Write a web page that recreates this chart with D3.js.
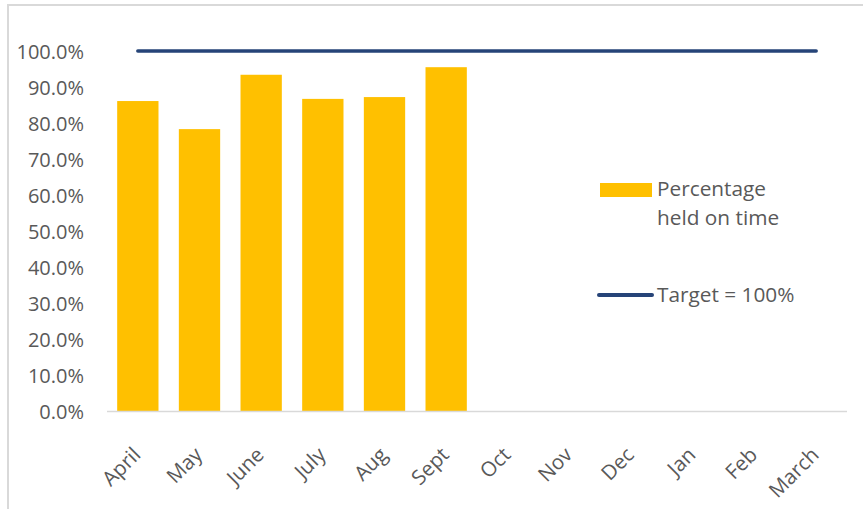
<!DOCTYPE html>
<html><head><meta charset="utf-8">
<script src="https://cdn.jsdelivr.net/npm/d3@7"></script>
<style>body{margin:0;background:#fff;} svg{display:block;}</style>
</head><body>
<svg id="c" width="863" height="509"></svg>
<script>
const months = ["April","May","June","July","Aug","Sept","Oct","Nov","Dec","Jan","Feb","March"];
const pctOnTime = [86.1, 78.3, 93.4, 86.7, 87.2, 95.5, null, null, null, null, null, null];
const target = [100,100,100,100,100,100,100,100,100,100,100,100];
const yTicks = [0,10,20,30,40,50,60,70,80,90,100];
const legendLabels = ["Percentage held on time", "Target = 100%"];

const svg = d3.select("#c");
const pL = 107, pR = 847, pT = 51, pB = 411;
const x = d3.scaleBand().domain(months).range([pL, pR]).paddingInner(0.33).paddingOuter(0.165);
const y = d3.scaleLinear().domain([0, 100]).range([pB, pT]);
const font = "'Open Sans', sans-serif";
const grey = "#595959";

// chart border
svg.append("path").attr("d", "M8,509 V5 H863").attr("fill", "none").attr("stroke", "#d9d9d9").attr("stroke-width", 2);

// y axis labels
const yAxis = d3.axisLeft(y).tickValues(yTicks).tickSize(0).tickPadding(0).tickFormat(d => d.toFixed(1) + "%");
const ga = svg.append("g").attr("transform", `translate(84,0)`).call(yAxis);
ga.select(".domain").remove();
ga.selectAll("text").attr("font-family", font).attr("font-size", 20).attr("fill", grey).attr("dy", "0.36em");

// bars
svg.append("g").selectAll("rect").data(months.map((m, i) => ({m, v: pctOnTime[i]})).filter(d => d.v != null))
  .join("rect")
  .attr("x", d => x(d.m)).attr("width", x.bandwidth())
  .attr("y", d => y(d.v)).attr("height", d => y(0) - y(d.v))
  .attr("fill", "#FFC000");

// x axis line
svg.append("line").attr("x1", pL).attr("x2", pR).attr("y1", y(0) + 0.5).attr("y2", y(0) + 0.5)
  .attr("stroke", "#d9d9d9").attr("stroke-width", 1.5);

// target line
const line = d3.line().x((d, i) => x(months[i]) + x.bandwidth() / 2).y(d => y(d));
svg.append("path").datum(target).attr("d", line).attr("fill", "none")
  .attr("stroke", "#264478").attr("stroke-width", 3.5).attr("stroke-linecap", "round");

// x labels
svg.append("g").selectAll("text").data(months).join("text")
  .attr("transform", d => `translate(${x(d) + x.bandwidth() / 2 - 1},${451}) rotate(-45)`)
  .attr("text-anchor", "end").attr("dy", "0.35em")
  .attr("font-family", font).attr("font-size", 20.5).attr("fill", grey)
  .text(d => d);

// legend
const lg = svg.append("g");
lg.append("rect").attr("x", 600).attr("y", 183).attr("width", 52).attr("height", 14).attr("fill", "#FFC000");
const t1 = lg.append("text").attr("x", 657).attr("y", 196).attr("font-family", font).attr("font-size", 20.8).attr("fill", grey);
t1.append("tspan").attr("x", 657).text("Percentage");
t1.append("tspan").attr("x", 657).attr("dy", 29).text("held on time");
lg.append("line").attr("x1", 599).attr("x2", 652).attr("y1", 295).attr("y2", 295)
  .attr("stroke", "#264478").attr("stroke-width", 4).attr("stroke-linecap", "round");
lg.append("text").attr("x", 657).attr("y", 302).attr("font-family", font).attr("font-size", 20.8).attr("fill", grey).text(legendLabels[1]);
</script>
</body></html>
